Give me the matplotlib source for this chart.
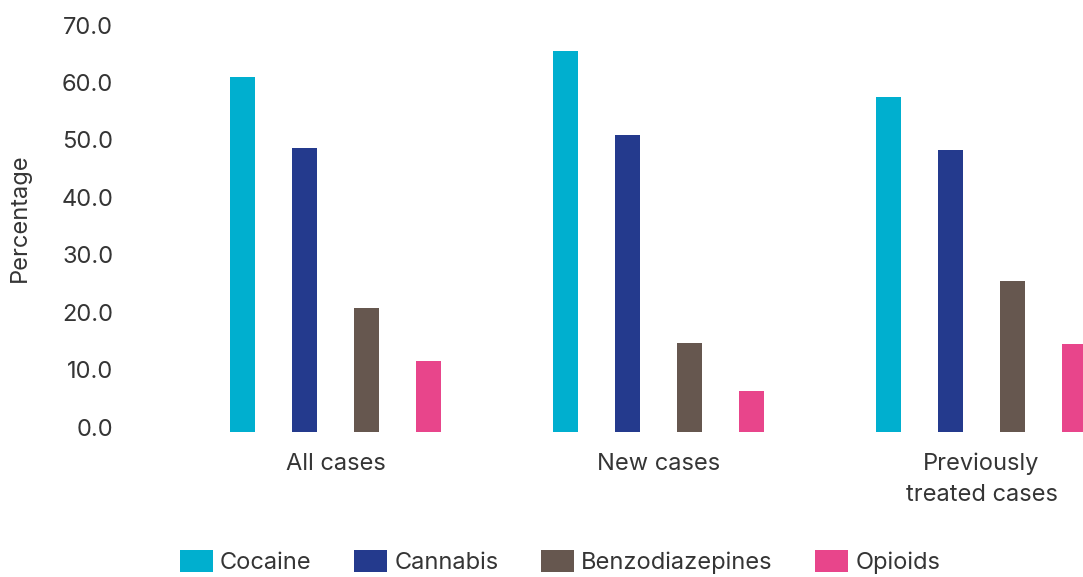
import numpy as np
import matplotlib
matplotlib.use("Agg")
import matplotlib.pyplot as plt
import matplotlib.transforms as mtransforms

# data
groups = ["All cases", "New cases", "Previously\ntreated cases"]
drugs = ["Cocaine", "Cannabis", "Benzodiazepines", "Opioids"]
cocaine = [61.8, 66.3, 58.3]
cannabis = [49.5, 51.7, 49.1]
benzo = [21.6, 15.5, 26.3]
opioids = [12.4, 7.1, 15.3]
colors = ["#00AFCF", "#243A8D", "#66574F", "#E8458B"]

series = [cocaine, cannabis, benzo, opioids]

plt.rcParams['font.family'] = ['Inter', 'DejaVu Sans']
fs = 17
txtc = "#353535"
fig = plt.figure(figsize=(10.83, 5.77), dpi=100)
ax = fig.add_axes([130/1083, 145/577, (1083-130)/1083, 402/577])

x = np.arange(len(groups))
step = 0.192
w = 0.0774
for i in range(4):
    ax.bar(x + (i - 1.5)*step, series[i], width=w, color=colors[i], label=drugs[i])

ax.set_xlim(-0.636, 2.314)
ax.set_ylim(0, 70)
ax.set_yticks(np.arange(0, 71, 10))
ax.set_yticklabels(["{:.1f}".format(v) for v in np.arange(0, 71, 10)])
ax.set_xticks(x)
ax.set_xticklabels(groups, linespacing=1.5)
for s in ax.spines.values():
    s.set_visible(False)
ax.tick_params(axis='both', length=0, labelsize=fs, colors=txtc)
ax.tick_params(axis='y', pad=12)
ax.tick_params(axis='x', pad=15)
off = mtransforms.ScaledTranslation(0, 5/100, fig.dpi_scale_trans)
for lab in ax.get_yticklabels():
    lab.set_transform(lab.get_transform() + off)

fig.text(20/1083, 1 - 218/577, "Percentage", rotation=90, ha='center', va='center',
         fontsize=fs, color=txtc)

fig.legend(loc='center', bbox_to_anchor=(560/1083, 1 - 562/577), ncol=4, frameon=False,
           fontsize=fs, handlelength=1.4, handleheight=1.1, handletextpad=0.3,
           columnspacing=1.8, labelcolor=txtc)

fig.savefig("out.png", dpi=100)
